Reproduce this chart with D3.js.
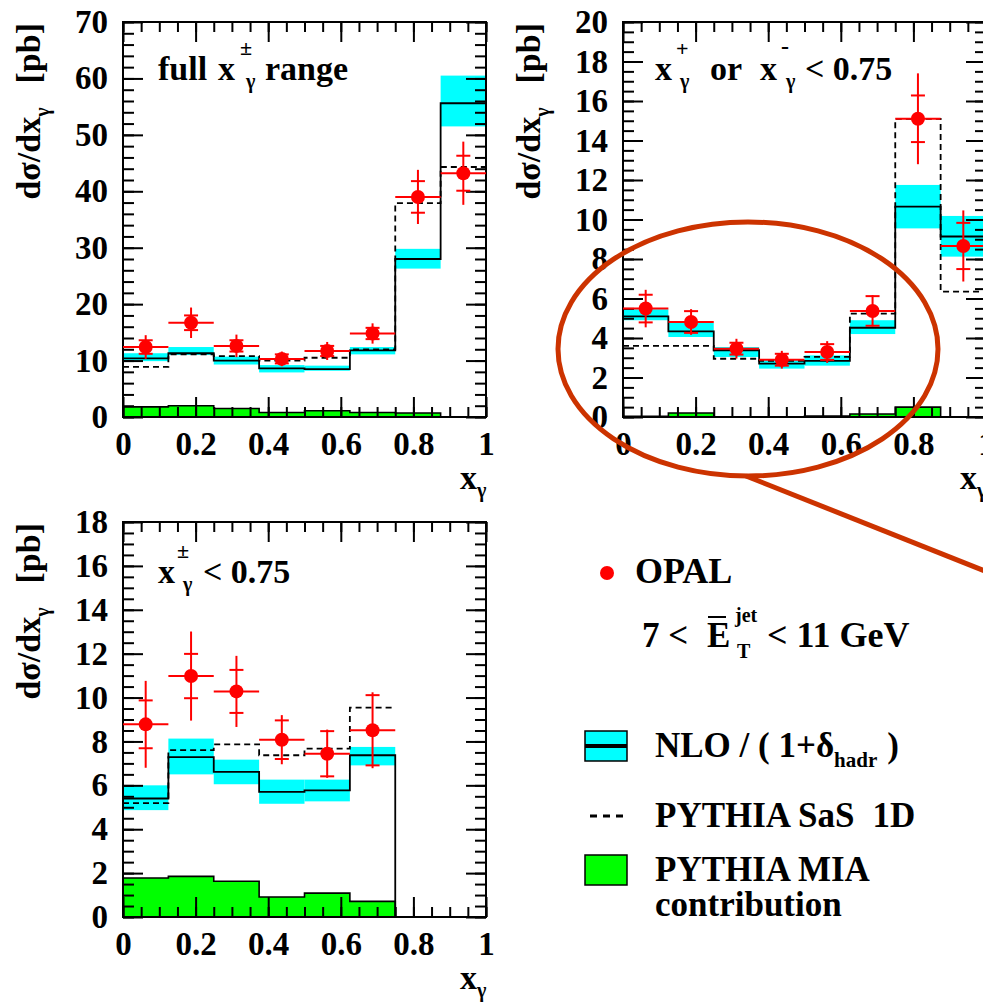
<!DOCTYPE html>
<html><head><meta charset="utf-8">
<script src="https://cdn.jsdelivr.net/npm/d3@7"></script>
</head><body style="margin:0;background:#fff"><svg id="c" width="983" height="1006"></svg>
<script>
// ---------- data ----------
const binEdges = [0, 0.125, 0.25, 0.375, 0.5, 0.625, 0.75, 0.875, 1];
const xMajorTicks = [0, 0.2, 0.4, 0.6, 0.8, 1];

// Panel A : full x_gamma range
const nloA    = [10.4, 11.3, 10.0, 8.6, 8.5, 11.8, 28.0, 55.6];
const nloLoA  = [9.9, 11.0, 9.3, 7.9, 8.2, 11.1, 26.3, 51.5];
const nloHiA  = [11.3, 12.4, 10.7, 9.2, 9.1, 12.4, 29.8, 60.5];
const pythiaA = [8.9, 11.1, 10.8, 10.0, 10.5, 12.0, 37.9, 44.3];
const miaA    = [1.8, 2.0, 1.5, 0.8, 1.1, 0.8, 0.7];
const opalA   = [12.4, 16.7, 12.6, 10.3, 11.7, 14.8, 39.0, 43.2];
const statA   = [1.2, 1.3, 1.0, 0.8, 0.9, 1.0, 2.8, 3.1];
const totA    = [2.1, 2.7, 2.0, 1.3, 1.6, 1.8, 4.8, 5.6];

// Panel B : x+ or x- < 0.75
const nloB    = [5.1, 4.34, 3.38, 2.7, 2.84, 4.52, 10.65, 9.14];
const nloLoB  = [4.9, 4.05, 3.04, 2.45, 2.6, 4.2, 9.55, 8.12];
const nloHiB  = [5.45, 4.76, 3.54, 2.87, 3.12, 4.9, 11.75, 10.18];
const pythiaB = [3.6, 3.6, 2.95, 2.84, 3.04, 5.23, 15.1, 6.35];
const miaB    = [0.03, 0.2, 0.0, 0.0, 0.05, 0.15, 0.5];
const opalB   = [5.49, 4.81, 3.46, 2.9, 3.29, 5.37, 15.1, 8.66];
const statB   = [0.7, 0.55, 0.3, 0.3, 0.4, 0.75, 1.18, 1.17];
const totB    = [0.95, 0.65, 0.5, 0.45, 0.55, 0.8, 2.3, 1.8];

// Panel C : x+- < 0.75
const nloC    = [5.4, 7.29, 6.61, 5.7, 5.77, 7.37];
const nloLoC  = [4.87, 6.5, 6.05, 5.16, 5.27, 6.91];
const nloHiC  = [6.0, 8.13, 7.17, 6.26, 6.26, 7.75];
const pythiaC = [5.19, 7.6, 7.87, 7.37, 7.67, 9.54];
const miaC    = [1.78, 1.85, 1.63, 0.91, 1.09, 0.71];
const opalC   = [8.78, 10.98, 10.28, 8.08, 7.44, 8.51];
const statC   = [1.09, 1.01, 0.98, 0.88, 1.03, 1.6];
const totC    = [1.98, 2.03, 1.62, 1.12, 1.1, 1.73];

const legendLabels = ["OPAL", "NLO / ( 1+δ", "PYTHIA SaS", "PYTHIA MIA", "contribution"];

// ---------- drawing ----------
const svg = d3.select("#c");
const W = 363, H = 395;

function stepPoints(vals, toZeroStart, toZeroEnd) {
  const pts = [];
  if (toZeroStart) pts.push([binEdges[0], 0]);
  vals.forEach((v, i) => { pts.push([binEdges[i], v]); pts.push([binEdges[i + 1], v]); });
  if (toZeroEnd) pts.push([binEdges[vals.length], 0]);
  return pts;
}

function rng(a, b, s) { const r = []; for (let v = a; v <= b + 1e-9; v += s) r.push(+v.toFixed(4)); return r; }

function drawPanel(p) {
  const x = d3.scaleLinear().domain([0, 1]).range([p.left, p.left + W]);
  const y = d3.scaleLinear().domain([0, p.ymax]).range([p.bottom, p.bottom - H]);
  const g = svg.append("g");
  const line = d3.line().x(d => x(d[0])).y(d => y(d[1]));

  g.selectAll("rect.band").data(p.nlo.map((v, i) => ({ i, lo: p.lo[i], hi: p.hi[i] })))
    .join("rect").attr("class", "band")
    .attr("x", d => x(binEdges[d.i])).attr("width", d => x(binEdges[d.i + 1]) - x(binEdges[d.i]))
    .attr("y", d => y(d.hi)).attr("height", d => y(d.lo) - y(d.hi))
    .attr("fill", "#00ffff");

  g.append("path").attr("d", line(stepPoints(p.mia, true, true)) + "Z")
    .attr("fill", "#00ff00").attr("stroke", "#000").attr("stroke-width", 1.6);

  g.append("path").attr("d", line(stepPoints(p.nlo, true, true)))
    .attr("fill", "none").attr("stroke", "#000").attr("stroke-width", 1.8);

  g.append("path").attr("d", line(stepPoints(p.pythia, false, false)))
    .attr("fill", "none").attr("stroke", "#000").attr("stroke-width", 1.8)
    .attr("stroke-dasharray", "6,4");

  const xMinor = rng(0, 1, 0.05), yMinor = rng(0, p.ymax, p.yMinor), yMajor = rng(0, p.ymax, p.yMajor);
  const axStyle = sel => {
    sel.attr("font-size", 33);
    sel.select(".domain").remove();
    sel.selectAll(".tick line").attr("stroke", "#000").attr("stroke-width", 2);
    sel.selectAll(".tick text").attr("fill", "#000").attr("font-size", 33);
  };
  g.append("g").attr("transform", `translate(0,${p.bottom})`)
    .call(d3.axisBottom(x).tickValues(xMinor).tickSize(-10).tickFormat("")).call(axStyle);
  g.append("g").attr("transform", `translate(0,${p.bottom - H})`)
    .call(d3.axisTop(x).tickValues(xMinor).tickSize(-10).tickFormat("")).call(axStyle);
  g.append("g").attr("transform", `translate(0,${p.bottom - H})`)
    .call(d3.axisTop(x).tickValues(xMajorTicks).tickSize(-20).tickFormat("")).call(axStyle);
  g.append("g").attr("transform", `translate(0,${p.bottom})`)
    .call(d3.axisBottom(x).tickValues(xMajorTicks).tickSize(-20).tickPadding(15)
      .tickFormat(d => d === 0 ? "0" : d === 1 ? "1" : d.toFixed(1))).call(axStyle);

  g.append("g").attr("transform", `translate(${p.left},0)`)
    .call(d3.axisLeft(y).tickValues(yMinor).tickSize(-11).tickFormat("")).call(axStyle);
  g.append("g").attr("transform", `translate(${p.left},0)`)
    .call(d3.axisLeft(y).tickValues(yMajor).tickSize(-20).tickPadding(15).tickFormat(d3.format("d"))).call(axStyle);
  g.append("g").attr("transform", `translate(${p.left + W},0)`)
    .call(d3.axisRight(y).tickValues(yMinor).tickSize(-11).tickFormat("")).call(axStyle);
  g.append("g").attr("transform", `translate(${p.left + W},0)`)
    .call(d3.axisRight(y).tickValues(yMajor).tickSize(-20).tickFormat("")).call(axStyle);

  g.append("rect").attr("x", p.left).attr("y", p.bottom - H).attr("width", W).attr("height", H)
    .attr("fill", "none").attr("stroke", "#000").attr("stroke-width", 2);

  const pts = p.opal.map((v, i) => ({ i, v, s: p.stat[i], t: p.tot[i] }));
  const red = "#ff0000";
  const pg = g.selectAll("g.pt").data(pts).join("g").attr("class", "pt");
  pg.append("line").attr("x1", d => x(binEdges[d.i])).attr("x2", d => x(binEdges[d.i + 1]))
    .attr("y1", d => y(d.v)).attr("y2", d => y(d.v)).attr("stroke", red).attr("stroke-width", 2);
  const xc = d => x((binEdges[d.i] + binEdges[d.i + 1]) / 2);
  pg.append("line").attr("x1", xc).attr("x2", xc)
    .attr("y1", d => y(d.v + d.t)).attr("y2", d => y(d.v - d.t)).attr("stroke", red).attr("stroke-width", 2);
  [1, -1].forEach(sg => {
    pg.append("line").attr("x1", d => xc(d) - 7).attr("x2", d => xc(d) + 7)
      .attr("y1", d => y(d.v + sg * d.s)).attr("y2", d => y(d.v + sg * d.s))
      .attr("stroke", red).attr("stroke-width", 2);
  });
  pg.append("circle").attr("cx", xc).attr("cy", d => y(d.v)).attr("r", 7).attr("fill", red);

  const yt = svg.append("text").attr("transform", `translate(${p.left - 83},${p.bottom - H + 1}) rotate(-90)`)
    .attr("text-anchor", "end").attr("font-size", 34);
  yt.append("tspan").text("dσ/dx");
  yt.append("tspan").attr("font-size", 20).attr("dy", 9).text("γ");
  yt.append("tspan").attr("dy", -9).attr("dx", 24).text("[pb]");

  const xt = svg.append("text").attr("x", p.left + W - 26).attr("y", p.bottom + 72).attr("font-size", 34);
  xt.append("tspan").text("x");
  xt.append("tspan").attr("font-size", 20).attr("dy", 8).text("γ");
}

drawPanel({ left: 123, bottom: 417, ymax: 70, yMajor: 10, yMinor: 2,
  nlo: nloA, lo: nloLoA, hi: nloHiA, pythia: pythiaA, mia: miaA, opal: opalA, stat: statA, tot: totA });
drawPanel({ left: 623, bottom: 417, ymax: 20, yMajor: 2, yMinor: 0.5,
  nlo: nloB, lo: nloLoB, hi: nloHiB, pythia: pythiaB, mia: miaB, opal: opalB, stat: statB, tot: totB });
drawPanel({ left: 123, bottom: 917, ymax: 18, yMajor: 2, yMinor: 0.5,
  nlo: nloC, lo: nloLoC, hi: nloHiC, pythia: pythiaC, mia: miaC, opal: opalC, stat: statC, tot: totC });

function lab(xp, yp, s, size) { return svg.append("text").attr("x", xp).attr("y", yp).attr("font-size", size || 34).text(s); }
lab(158, 80, "full"); lab(218, 80, "x"); lab(240, 55, "±", 22); lab(246, 88, "γ", 20); lab(265, 80, "range");
lab(655, 80, "x"); lab(676, 56, "+", 22); lab(680, 88, "γ", 20); lab(710, 80, "or");
lab(760, 80, "x"); lab(781, 54, "-", 24); lab(786, 88, "γ", 20); lab(805, 80, "< 0.75");
lab(158, 583, "x"); lab(177, 558, "±", 22); lab(183, 591, "γ", 20); lab(203, 583, "< 0.75");

svg.append("ellipse").attr("cx", 748).attr("cy", 349).attr("rx", 190).attr("ry", 127)
  .attr("fill", "none").attr("stroke", "#cc3300").attr("stroke-width", 5);
svg.append("line").attr("x1", 746).attr("y1", 476).attr("x2", 985).attr("y2", 571)
  .attr("stroke", "#cc3300").attr("stroke-width", 5);

svg.append("circle").attr("cx", 607).attr("cy", 573).attr("r", 7).attr("fill", "#ff0000");
lab(635, 583, legendLabels[0], 36);
lab(642, 647, "7 <", 35); lab(707, 647, "E", 35);
svg.append("line").attr("x1", 708).attr("x2", 726).attr("y1", 617).attr("y2", 617).attr("stroke", "#000").attr("stroke-width", 2);
lab(735, 622, "jet", 20); lab(737, 658, "T", 20); lab(767, 647, "< 11 GeV", 36);

svg.append("rect").attr("x", 585).attr("y", 731).attr("width", 42).attr("height", 30)
  .attr("fill", "#00ffff").attr("stroke", "#000").attr("stroke-width", 1.5);
svg.append("line").attr("x1", 585).attr("x2", 627).attr("y1", 746).attr("y2", 746).attr("stroke", "#000").attr("stroke-width", 4);
const nl = svg.append("text").attr("x", 655).attr("y", 757).attr("font-size", 35);
nl.append("tspan").text(legendLabels[1]);
nl.append("tspan").attr("font-size", 21).attr("dy", 10).text("hadr");
nl.append("tspan").attr("dy", -10).attr("dx", 10).text(")");

svg.append("line").attr("x1", 590).attr("x2", 627).attr("y1", 816).attr("y2", 816)
  .attr("stroke", "#000").attr("stroke-width", 3).attr("stroke-dasharray", "7,6");
const py = svg.append("text").attr("x", 655).attr("y", 827).attr("font-size", 35);
py.append("tspan").text(legendLabels[2]);
py.append("tspan").attr("dx", 18).text("1D");
lab(655, 881, legendLabels[3], 35);
svg.append("rect").attr("x", 585).attr("y", 855).attr("width", 42).attr("height", 30)
  .attr("fill", "#00ff00").attr("stroke", "#000").attr("stroke-width", 1.5);
lab(655, 916, legendLabels[4], 35);

// fonts applied directly on every text element
svg.selectAll("text").attr("font-family", '"Liberation Serif"').attr("font-weight", "bold");
</script>
</body></html>
